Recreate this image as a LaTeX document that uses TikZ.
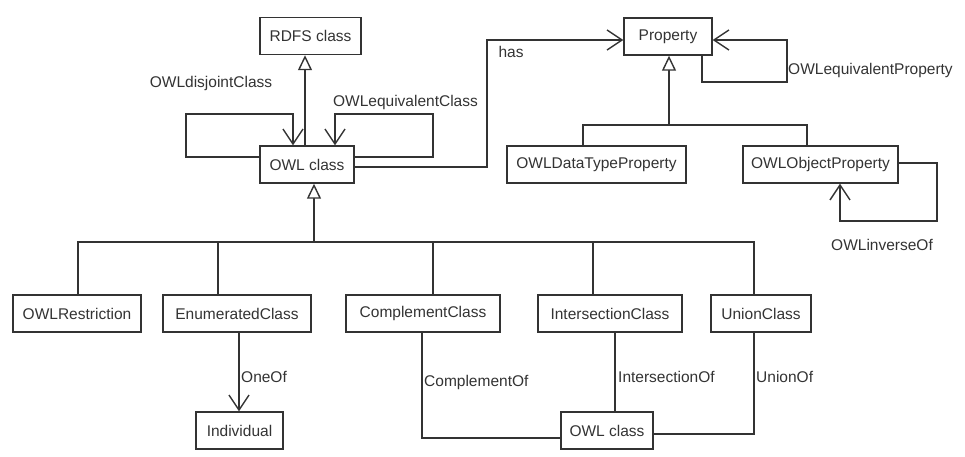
\documentclass[tikz,border=0pt]{standalone}
\usepackage{fontspec}
\setmainfont{Liberation Sans}
\usetikzlibrary{arrows.meta,calc}
\definecolor{ln}{HTML}{333333}
\begin{document}
\begin{tikzpicture}[x=1pt,y=-1pt,
  font=\fontsize{15.5}{17}\selectfont,
  cls/.style={draw=ln,line width=1.4pt,inner sep=0pt,minimum height=37pt,text=ln},
  conn/.style={draw=ln,line width=1.4pt},
  gen/.style={conn,arrows={-Triangle[open,length=15pt,width=14pt,fill=white]}},
  assoc/.style={conn,arrows={-Straight Barb[length=15pt,width=20pt]}},
  lbl/.style={inner sep=0pt,text=ln}]
\useasboundingbox (0,0) rectangle (965,456);
% classes
\node[cls,minimum width=101pt] (rdfs)  at (310.5,36)  {RDFS class};
\node[cls,minimum width=94pt]  (owl)   at (307,164.5) {OWL class};
\node[cls,minimum width=88pt]  (prop)  at (668,36.5)  {Property};
\node[cls,minimum width=179pt] (dtp)   at (596.5,164.5) {OWLDataTypeProperty};
\node[cls,minimum width=155pt] (op)    at (820.5,164.5) {OWLObjectProperty};
\node[cls,minimum width=128pt] (restr) at (77,313.5)  {OWLRestriction};
\node[cls,minimum width=148pt] (enum)  at (237,313.5) {EnumeratedClass};
\node[cls,minimum width=154pt] (compl) at (423,313.5) {ComplementClass};
\node[cls,minimum width=144pt] (inter) at (610,313.5) {IntersectionClass};
\node[cls,minimum width=100pt] (union) at (761,313.5) {UnionClass};
\node[cls,minimum width=87pt]  (indiv) at (239.5,430.5) {Individual};
\node[cls,minimum width=92pt]  (owlb)  at (607,430.5) {OWL class};
% generalization OWL class -> RDFS class
\draw[gen] (305,0 |- owl.north) -- (305,0 |- rdfs.south);
% disjoint self loop
\coordinate (dj) at (293,114);
\draw[assoc] (owl.west |- 0,157) -- (186,157) -- (186,114) -- (dj) -- (293,0 |- owl.north);
\node[lbl] (ldj) at (211,83) {OWLdisjointClass};
% equivalent class loop
\draw[assoc] (owl.east |- 0,157) -- (433,157) -- (433,114) -- (335,114) -- (335,0 |- owl.north);
\node[lbl] (leq) at (405.5,102) {OWLequivalentClass};
% has
\coordinate (h1) at (487,167);
\draw[assoc] (owl.east |- h1) -- (h1) -- (487,40) -- (prop.west |- 0,40);
\node[lbl] (lhas) at (511,52) {has};
% equivalent property
\draw[assoc] (702,0 |- prop.south) -- (702,82) -- (787,82) -- (787,40) -- (prop.east |- 0,40);
\node[lbl,anchor=west] (leqp) at (788,70) {OWLequivalentProperty};
% property generalization
\coordinate (pb) at (669,125);
\draw[conn] (583,0 |- dtp.north) -- (583,125) -- (807,125) -- (807,0 |- op.north);
\draw[gen] (pb) -- (669,0 |- prop.south);
% inverse of
\draw[assoc] (op.east |- 0,163) -- (937,163) -- (937,221) -- (840,221) -- (840,0 |- op.south);
\node[lbl] (linv) at (882,245) {OWLinverseOf};
% OWL class generalization bus
\coordinate (ob) at (314,242);
\draw[conn] (78,0 |- restr.north) -- (78,242) -- (754,242) -- (754,0 |- union.north);
\draw[conn] (218,242) -- (218,0 |- enum.north);
\draw[conn] (433,242) -- (433,0 |- compl.north);
\draw[conn] (593,242) -- (593,0 |- inter.north);
\draw[gen] (ob) -- (314,0 |- owl.south);
% oneOf
\draw[assoc] (239,0 |- enum.south) -- (239,0 |- indiv.north);
\node[lbl,anchor=west] (lone) at (241,377) {OneOf};
% complementOf
\draw[conn] (422,0 |- compl.south) -- (422,438) -- (owlb.west |- 0,438);
\node[lbl,anchor=west] (lcomp) at (424,382) {ComplementOf};
% intersectionOf
\draw[conn] (615,0 |- inter.south) -- (615,0 |- owlb.north);
\node[lbl,anchor=west] (linter) at (618,377) {IntersectionOf};
% unionOf
\draw[conn] (754,0 |- union.south) -- (754,434) -- (owlb.east |- 0,434);
\node[lbl,anchor=west] (lunion) at (756,377) {UnionOf};
\end{tikzpicture}
\end{document}
